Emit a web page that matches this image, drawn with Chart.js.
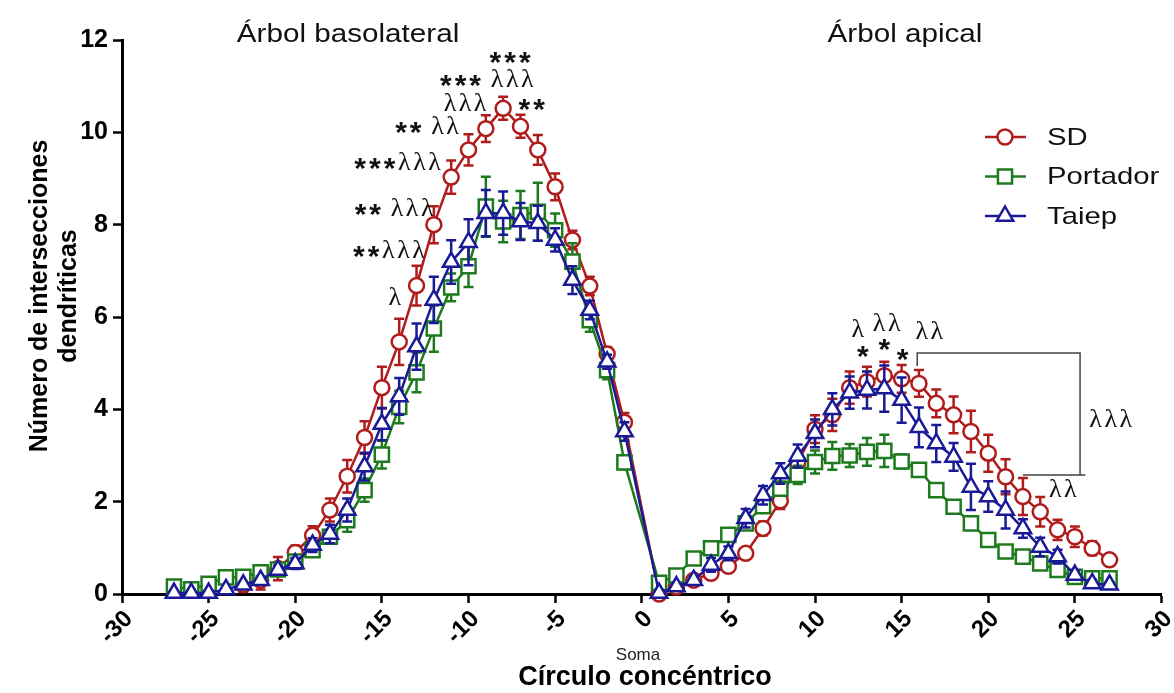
<!DOCTYPE html>
<html>
<head>
<meta charset="utf-8">
<script src="https://cdn.jsdelivr.net/npm/chart.js@4.4.0/dist/chart.umd.min.js"></script>
<style>
  html, body { margin: 0; padding: 0; background: #fff; }
</style>
</head>
<body>
<canvas id="sholl" width="1174" height="693"></canvas>
<script>
// Concentric circle number (negative = basolateral, positive = apical)
const rings = [-27, -26, -25, -24, -23, -22, -21, -20, -19, -18, -17, -16, -15, -14,
  -13, -12, -11, -10, -9, -8, -7, -6, -5, -4, -3, -2, -1,
  1, 2, 3, 4, 5, 6, 7, 8, 9, 10, 11, 12, 13, 14, 15, 16, 17, 18, 19, 20,
  21, 22, 23, 24, 25, 26, 27];

// SD
const sdMean = [null, null, null, null, 0.20, 0.30, 0.55, 0.90, 1.27, 1.82, 2.55, 3.39, 4.47, 5.46,
  6.68, 8.00, 9.03, 9.62, 10.08, 10.52, 10.13, 9.62, 8.82, 7.67, 6.67, 5.20, 3.72,
  0.00, 0.15, 0.30, 0.45, 0.60, 0.88, 1.42, 2.02, 2.85, 3.57, 3.88, 4.47, 4.60, 4.73, 4.66, 4.56,
  4.13, 3.88, 3.52, 3.05, 2.54, 2.11, 1.78, 1.39, 1.24, 0.99, 0.74];
const sdErr = [null, null, null, null, 0.15, 0.20, 0.25, 0.15, 0.20, 0.25, 0.35, 0.35, 0.45, 0.50,
  0.43, 0.40, 0.36, 0.34, 0.29, 0.25, 0.25, 0.32, 0.29, 0.20, 0.20, 0.15, 0.20,
  0.00, 0.05, 0.05, 0.08, 0.10, 0.12, 0.15, 0.18, 0.20, 0.30, 0.35, 0.35, 0.32, 0.30, 0.30, 0.29,
  0.30, 0.40, 0.45, 0.40, 0.38, 0.40, 0.32, 0.22, 0.22, 0.15, 0.10];

// Portador
const portMean = [0.16, 0.10, 0.22, 0.36, 0.37, 0.47, 0.53, 0.70, 0.95, 1.24, 1.60, 2.25, 3.02, 4.05,
  4.80, 5.75, 6.64, 7.10, 8.39, 8.07, 8.21, 8.28, 7.88, 7.20, 5.93, 4.85, 2.85,
  0.24, 0.40, 0.77, 0.99, 1.28, 1.53, 1.90, 2.28, 2.58, 2.86, 2.99, 3.00, 3.08, 3.10, 2.87, 2.69,
  2.25, 1.89, 1.53, 1.17, 0.92, 0.81, 0.66, 0.52, 0.37, 0.34, 0.34];
const portErr = [0.05, 0.05, 0.05, 0.08, 0.08, 0.08, 0.10, 0.10, 0.12, 0.15, 0.25, 0.25, 0.30, 0.35,
  0.43, 0.50, 0.30, 0.45, 0.65, 0.45, 0.52, 0.63, 0.36, 0.40, 0.25, 0.20, 0.15,
  0.05, 0.05, 0.06, 0.08, 0.08, 0.10, 0.12, 0.15, 0.20, 0.25, 0.30, 0.25, 0.30, 0.35, 0.15, 0.12,
  0.10, 0.10, 0.08, 0.08, 0.06, 0.06, 0.06, 0.05, 0.05, 0.05, 0.05];

// Taiep
const taiMean = [0.02, 0.02, 0.02, 0.10, 0.20, 0.30, 0.52, 0.66, 1.06, 1.30, 1.82, 2.76, 3.68, 4.28,
  5.36, 6.37, 7.19, 7.62, 8.25, 8.25, 8.07, 8.03, 7.67, 6.80, 6.15, 5.03, 3.52,
  0.02, 0.16, 0.30, 0.63, 0.88, 1.64, 2.14, 2.61, 2.99, 3.48, 4.00, 4.36, 4.42, 4.45, 4.20, 3.61,
  3.26, 2.97, 2.32, 2.11, 1.82, 1.42, 1.02, 0.81, 0.41, 0.23, 0.20];
const taiErr = [0.02, 0.02, 0.02, 0.05, 0.06, 0.08, 0.10, 0.12, 0.15, 0.20, 0.25, 0.30, 0.35, 0.40,
  0.50, 0.50, 0.47, 0.50, 0.50, 0.47, 0.40, 0.38, 0.25, 0.30, 0.20, 0.15, 0.20,
  0.02, 0.05, 0.08, 0.15, 0.15, 0.20, 0.20, 0.22, 0.25, 0.30, 0.35, 0.35, 0.40, 0.50, 0.49, 0.43,
  0.40, 0.30, 0.50, 0.33, 0.40, 0.20, 0.20, 0.15, 0.10, 0.08, 0.05];

const xTicks = [-30, -25, -20, -15, -10, -5, 0, 5, 10, 15, 20, 25, 30];
const yTicks = [0, 2, 4, 6, 8, 10, 12];

// significance marks (text placed in data units)
const sigMarks = [
  { x: -7.6, y: 11.62, t: '***' },
  { x: -8.95, y: 11.12, t: '*** λλλ' },
  { x: -10.2, y: 10.62, t: 'λλλ' },
  { x: -6.35, y: 10.6, t: '**' },
  { x: -12.4, y: 10.12, t: '** λλ' },
  { x: -14.1, y: 9.33, t: '***λλλ' },
  { x: -14.3, y: 8.33, t: '** λλλ' },
  { x: -14.6, y: 7.43, t: '**λλλ' },
  { x: -14.25, y: 6.4, t: 'λ' },
  { x: 12.47, y: 5.72, t: 'λ' },
  { x: 12.76, y: 5.25, t: '*' },
  { x: 14.14, y: 5.85, t: 'λλ' },
  { x: 14.0, y: 5.42, t: '*' },
  { x: 15.06, y: 5.2, t: '*' },
  { x: 16.6, y: 5.67, t: 'λλ' },
  { x: 27.07, y: 3.77, t: 'λλλ' },
  { x: 24.3, y: 2.25, t: 'λλ' }
];
const bracket = [[15.9, 4.94], [15.9, 5.22], [25.3, 5.22], [25.3, 2.58]];
const bracketFoot = [[22.0, 2.58], [25.6, 2.58]];

const RED = '#b01c1c', GREEN = '#1e7a1e', BLUE = '#1a1a96';
const SANS = '"Liberation Sans", Arial, sans-serif';
const SERIF = '"Liberation Serif", "Times New Roman", serif';

const pts = vals => rings.map((r, i) => ({ x: r, y: vals[i] }));

function marker(ctx, style, x, y, r) {
  ctx.beginPath();
  if (style === 'circle') ctx.arc(x, y, r, 0, Math.PI * 2);
  else if (style === 'rect') { const s = r * Math.SQRT1_2; ctx.rect(x - s, y - s, 2 * s, 2 * s); }
  else {
    ctx.moveTo(x, y - r);
    ctx.lineTo(x + r * 0.866, y + r * 0.5);
    ctx.lineTo(x - r * 0.866, y + r * 0.5);
    ctx.closePath();
  }
  ctx.fill();
  ctx.stroke();
}

// text a bit wider than the font, as in the original figure
function wideText(ctx, str, x, y, sx) {
  ctx.save();
  ctx.translate(x, y);
  ctx.scale(sx, 1);
  ctx.fillText(str, 0, 0);
  ctx.restore();
}

function drawMarkText(ctx, str, cx, cy) {
  const lamSize = 26, starSize = 30;
  const chars = [...str];
  const fontFor = ch => ch === '*' ? `bold ${starSize}px ${SANS}` : `${lamSize}px ${SERIF}`;
  const widths = chars.map(ch => {
    if (ch === ' ') return 7;
    ctx.font = fontFor(ch);
    return ctx.measureText(ch).width + (ch === '*' ? 3 : 2.5);
  });
  let x = cx - widths.reduce((a, b) => a + b, 0) / 2;
  ctx.textAlign = 'left';
  ctx.textBaseline = 'middle';
  ctx.fillStyle = '#111';
  chars.forEach((ch, i) => {
    if (ch !== ' ') {
      ctx.font = fontFor(ch);
      ctx.fillText(ch, x + (ch === '*' ? 1.5 : 1.25), cy + (ch === '*' ? starSize * 0.22 : 0));
    }
    x += widths[i];
  });
}

// error bars drawn just under each dataset's own line and markers
const errorBars = {
  id: 'errorBars',
  beforeDatasetDraw(chart, args) {
    const ds = chart.data.datasets[args.index];
    const { x: xs, y: ys } = chart.scales;
    const ctx = chart.ctx;
    ctx.save();
    ctx.strokeStyle = ds.borderColor;
    ctx.lineWidth = 2.5;
    ds.data.forEach((p, i) => {
      const e = ds.errors[i];
      if (p.y == null || !e) return;
      const px = xs.getPixelForValue(p.x);
      const top = ys.getPixelForValue(p.y + e);
      const bot = ys.getPixelForValue(Math.max(0, p.y - e));
      ctx.beginPath();
      ctx.moveTo(px, top); ctx.lineTo(px, bot);
      ctx.moveTo(px - 5, top); ctx.lineTo(px + 5, top);
      ctx.moveTo(px - 5, bot); ctx.lineTo(px + 5, bot);
      ctx.stroke();
    });
    ctx.restore();
  }
};

const decorations = {
  id: 'decorations',
  afterDraw(chart) {
    const ctx = chart.ctx;
    const { x: xs, y: ys } = chart.scales;
    ctx.save();

    // panel titles
    ctx.fillStyle = '#111';
    ctx.font = `26px ${SANS}`;
    ctx.textAlign = 'center';
    ctx.textBaseline = 'alphabetic';
    wideText(ctx, 'Árbol basolateral', 348, 42, 1.14);
    wideText(ctx, 'Árbol apical', 905, 42, 1.14);

    // axis titles
    ctx.font = `bold 27px ${SANS}`;
    ctx.fillStyle = '#000';
    ctx.textBaseline = 'middle';
    ctx.fillText('Círculo concéntrico', 645, 678);
    ctx.font = `17px ${SANS}`;
    ctx.fillStyle = '#222';
    ctx.fillText('Soma', 638, 655);

    ctx.save();
    ctx.translate(40, 296);
    ctx.rotate(-Math.PI / 2);
    ctx.font = `bold 25px ${SANS}`;
    ctx.fillStyle = '#000';
    ctx.fillText('Número de intersecciones', 0, 0);
    ctx.fillText('dendríticas', 0, 29);
    ctx.restore();

    // significance marks
    sigMarks.forEach(m => drawMarkText(ctx, m.t, xs.getPixelForValue(m.x), ys.getPixelForValue(m.y)));

    // bracket
    ctx.strokeStyle = '#444';
    ctx.lineWidth = 1.5;
    ctx.beginPath();
    bracket.forEach((p, i) => {
      const px = xs.getPixelForValue(p[0]), py = ys.getPixelForValue(p[1]);
      i ? ctx.lineTo(px, py) : ctx.moveTo(px, py);
    });
    ctx.moveTo(xs.getPixelForValue(bracketFoot[0][0]), ys.getPixelForValue(bracketFoot[0][1]));
    ctx.lineTo(xs.getPixelForValue(bracketFoot[1][0]), ys.getPixelForValue(bracketFoot[1][1]));
    ctx.stroke();

    // legend
    chart.data.datasets.slice().sort((a, b) => b.order - a.order).forEach((ds, i) => {
      const y = 137 + i * 39.5;
      ctx.strokeStyle = ds.borderColor;
      ctx.lineWidth = 2.5;
      ctx.beginPath();
      ctx.moveTo(985, y); ctx.lineTo(1026, y);
      ctx.stroke();
      ctx.fillStyle = '#fff';
      marker(ctx, ds.pointStyle, 1005, y, ds.pointRadius);
      ctx.fillStyle = '#111';
      ctx.font = `24px ${SANS}`;
      ctx.textAlign = 'left';
      ctx.textBaseline = 'middle';
      wideText(ctx, ds.label, 1047, y + 1, 1.22);
    });
    ctx.restore();
  }
};

const series = (label, vals, errs, color, style, radius, order) => ({
  label,
  data: pts(vals),
  errors: errs,
  borderColor: color,
  backgroundColor: '#fff',
  borderWidth: 2.5,
  pointStyle: style,
  pointRadius: radius,
  pointBorderWidth: 2.5,
  pointBackgroundColor: '#fff',
  pointBorderColor: color,
  showLine: true,
  tension: 0,
  clip: false,
  order
});

const tickFont = { family: SANS, size: 24, weight: 'bold' };

new Chart(document.getElementById('sholl'), {
  type: 'scatter',
  data: {
    datasets: [
      series('SD', sdMean, sdErr, RED, 'circle', 7.5, 3),
      series('Portador', portMean, portErr, GREEN, 'rect', 10, 2),
      series('Taiep', taiMean, taiErr, BLUE, 'triangle', 9.5, 1)
    ]
  },
  options: {
    responsive: false,
    animation: false,
    layout: { padding: { top: 40, right: 5, left: 0, bottom: 0 } },
    plugins: { legend: { display: false }, tooltip: { enabled: false } },
    scales: {
      x: {
        type: 'linear',
        min: xTicks[0],
        max: xTicks[xTicks.length - 1],
        afterBuildTicks: s => { s.ticks = xTicks.map(v => ({ value: v })); },
        afterFit: s => { s.height = 99; s.paddingLeft = 0; s.paddingRight = 0; },
        ticks: { color: '#000', font: tickFont, minRotation: 45, maxRotation: 45, padding: 2, labelOffset: 7 },
        grid: { drawOnChartArea: false, tickLength: 9, tickWidth: 2.5, tickColor: '#000' },
        border: { color: '#000', width: 3 }
      },
      y: {
        min: yTicks[0],
        max: yTicks[yTicks.length - 1],
        afterBuildTicks: s => { s.ticks = yTicks.map(v => ({ value: v })); },
        afterFit: s => { s.width = 122; },
        ticks: { color: '#000', font: { family: SANS, size: 25, weight: 'bold' }, padding: 5 },
        grid: { drawOnChartArea: false, tickLength: 9, tickWidth: 2.5, tickColor: '#000' },
        border: { color: '#000', width: 3 }
      }
    }
  },
  plugins: [errorBars, decorations]
});
</script>
</body>
</html>
